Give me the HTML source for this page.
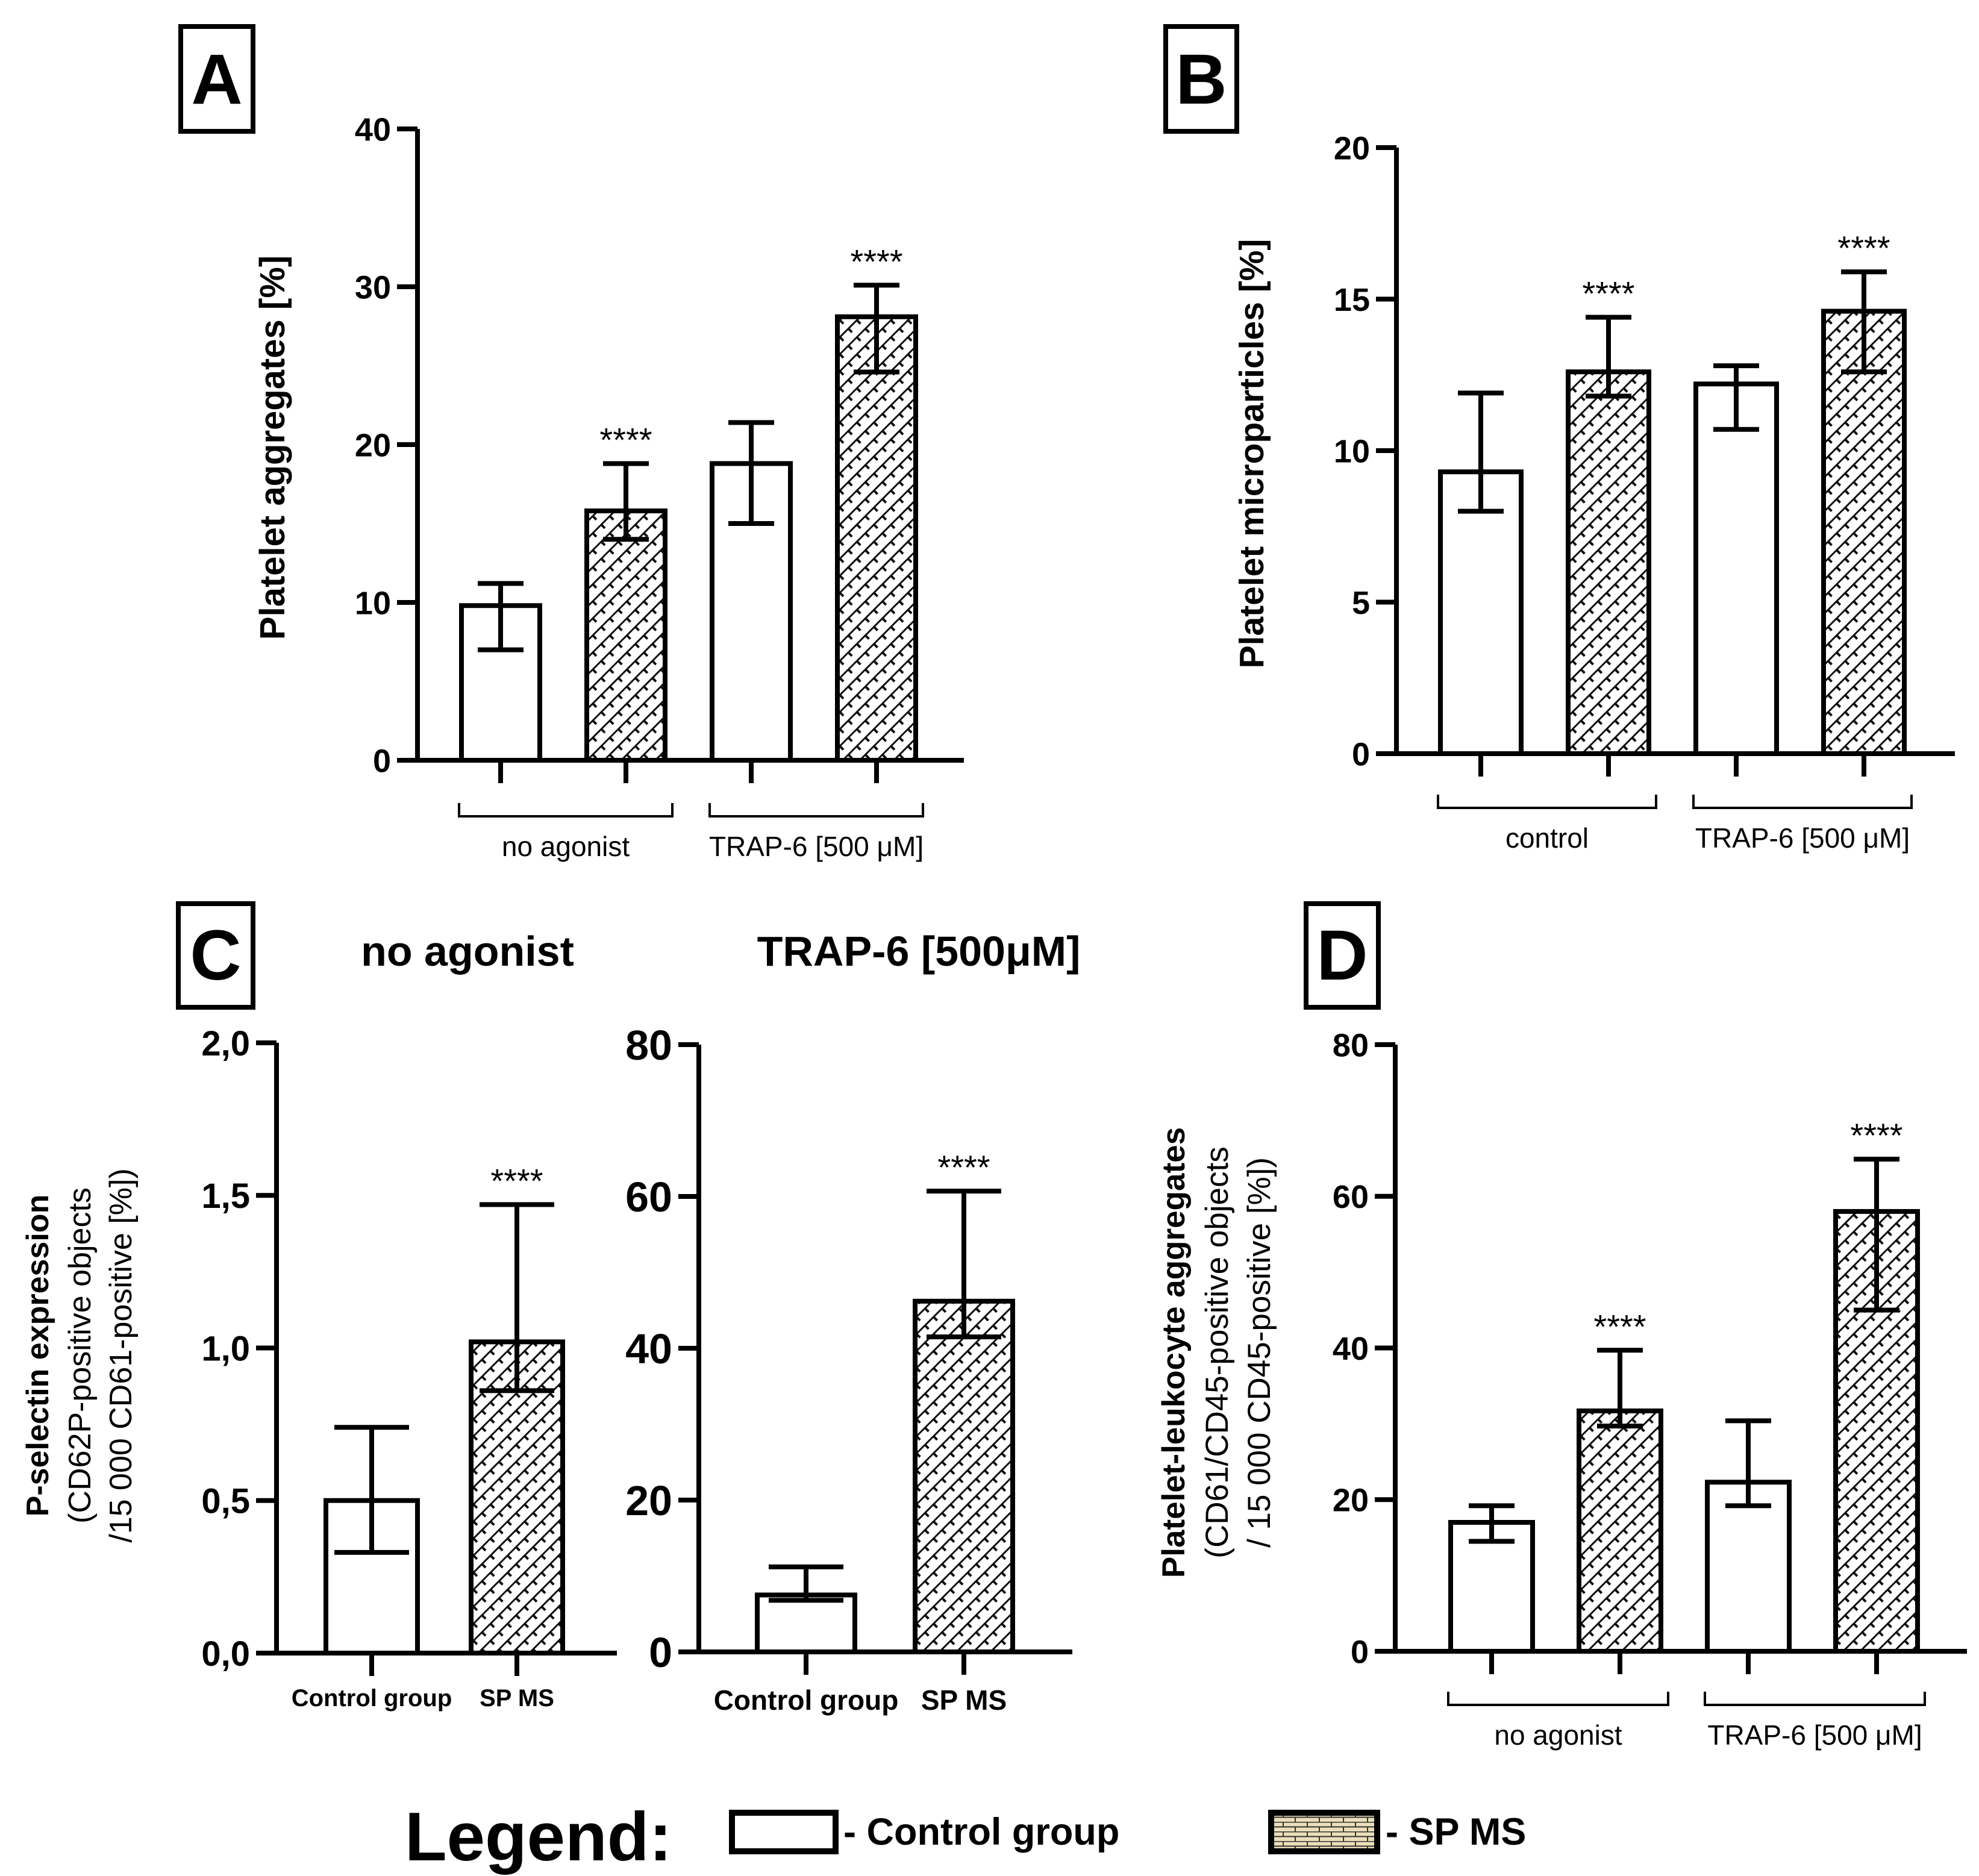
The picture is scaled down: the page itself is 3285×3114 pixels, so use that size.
<!DOCTYPE html>
<html><head><meta charset="utf-8"><style>
html,body{margin:0;padding:0;background:#fff;}
svg{display:block;font-family:"Liberation Sans",Arial,sans-serif;}
</style></head><body>
<svg id="fig" width="3285" height="3114" viewBox="0 0 3285 3114" xmlns="http://www.w3.org/2000/svg">
<defs>
<pattern id="hatch" patternUnits="userSpaceOnUse" width="20" height="20" patternTransform="rotate(45)">
<rect width="20" height="20" fill="#fff"/>
<line x1="0" y1="0" x2="0" y2="20" stroke="#111" stroke-width="6"/>
<line x1="0" y1="10" x2="10" y2="10" stroke="#111" stroke-width="4"/>
</pattern>
<pattern id="brick" patternUnits="userSpaceOnUse" width="40" height="16">
<rect width="40" height="16" fill="#eadfb8"/>
<line x1="0" y1="0.5" x2="40" y2="0.5" stroke="#333" stroke-width="2"/>
<line x1="0" y1="8.5" x2="40" y2="8.5" stroke="#333" stroke-width="2"/>
<line x1="10" y1="0" x2="10" y2="8" stroke="#333" stroke-width="2"/>
<line x1="30" y1="8" x2="30" y2="16" stroke="#333" stroke-width="2"/>
</pattern>
</defs>

<g><rect x="300" y="44" width="120" height="174" fill="none" stroke="#000" stroke-width="8"/><text x="360" y="172" font-size="118" font-weight="bold" text-anchor="middle">A</text></g>
<g><rect x="1935" y="44" width="118" height="174" fill="none" stroke="#000" stroke-width="8"/><text x="1994" y="172" font-size="118" font-weight="bold" text-anchor="middle">B</text></g>
<g><rect x="296" y="1500" width="124" height="172" fill="none" stroke="#000" stroke-width="8"/><text x="358" y="1626" font-size="118" font-weight="bold" text-anchor="middle">C</text></g>
<g><rect x="2168" y="1500" width="120" height="172" fill="none" stroke="#000" stroke-width="8"/><text x="2228" y="1626" font-size="118" font-weight="bold" text-anchor="middle">D</text></g>

<text x="776" y="1603" font-size="70" font-weight="bold" text-anchor="middle">no agonist</text>
<text x="1525" y="1603" font-size="70" font-weight="bold" text-anchor="middle">TRAP-6 [500μM]</text>

<text transform="translate(472,743) rotate(-90)" font-size="58" font-weight="bold" text-anchor="middle">Platelet aggregates [%]</text>
<text transform="translate(2097,753) rotate(-90)" font-size="57" font-weight="bold" text-anchor="middle">Platelet microparticles [%]</text>
<g font-size="52" text-anchor="middle">
<text transform="translate(80,2250) rotate(-90)" font-weight="bold">P-selectin expression</text>
<text transform="translate(150,2250) rotate(-90)">(CD62P-positive objects</text>
<text transform="translate(218,2250) rotate(-90)">/15 000 CD61-positive [%])</text>
</g>
<g font-size="53" text-anchor="middle">
<text transform="translate(1966,2245) rotate(-90)" font-weight="bold">Platelet-leukocyte aggregates</text>
<text transform="translate(2038,2245) rotate(-90)">(CD61/CD45-positive objects</text>
<text transform="translate(2108,2245) rotate(-90)">/ 15 000 CD45-positive [%])</text>
</g>

<g id="charts"></g>

<g>
<text x="672" y="3088" font-size="114" font-weight="bold">Legend:</text>
<rect x="1215" y="3009" width="172" height="64" fill="#fff" stroke="#000" stroke-width="10"/>
<text x="1400" y="3062" font-size="63" font-weight="bold">- Control group</text>
<rect x="2110" y="3009" width="176" height="64" fill="url(#brick)" stroke="#000" stroke-width="10"/>
<text x="2300" y="3062" font-size="63" font-weight="bold">- SP MS</text>
</g>
</svg>
<script>
const aCategories = ['Control no agonist','SP MS no agonist','Control TRAP-6','SP MS TRAP-6'];
const aValues = [9.8, 15.8, 18.8, 28.1];
const aErrLow = [7.0, 14.0, 15.0, 24.6];
const aErrHigh = [11.2, 18.8, 21.4, 30.1];
const aTicks = [0, 10, 20, 30, 40];
const aStars = ['', '****', '', '****'];

const bCategories = ['Control control','SP MS control','Control TRAP-6','SP MS TRAP-6'];
const bValues = [9.3, 12.6, 12.2, 14.6];
const bErrLow = [8.0, 11.8, 10.7, 12.6];
const bErrHigh = [11.9, 14.4, 12.8, 15.9];
const bTicks = [0, 5, 10, 15, 20];
const bStars = ['', '****', '', '****'];

const c1Categories = ['Control group', 'SP MS'];
const c1Values = [0.5, 1.02];
const c1ErrLow = [0.33, 0.86];
const c1ErrHigh = [0.74, 1.47];
const c1Ticks = [0, 0.5, 1.0, 1.5, 2.0];
const c1TickLabels = ['0,0', '0,5', '1,0', '1,5', '2,0'];
const c1Stars = ['', '****'];

const c2Categories = ['Control group', 'SP MS'];
const c2Values = [7.5, 46.2];
const c2ErrLow = [6.8, 41.5];
const c2ErrHigh = [11.2, 60.7];
const c2Ticks = [0, 20, 40, 60, 80];
const c2Stars = ['', '****'];

const dCategories = ['Control no agonist','SP MS no agonist','Control TRAP-6','SP MS TRAP-6'];
const dValues = [17.0, 31.7, 22.3, 58.0];
const dErrLow = [14.5, 29.7, 19.2, 45.0];
const dErrHigh = [19.2, 39.7, 30.4, 64.9];
const dTicks = [0, 20, 40, 60, 80];
const dStars = ['', '****', '', '****'];

const NS = 'http://www.w3.org/2000/svg';
const root = document.getElementById('charts');
function mk(tag, attrs, parent){
  const e = document.createElementNS(NS, tag);
  for (const k in attrs) e.setAttribute(k, attrs[k]);
  parent.appendChild(e);
  return e;
}

function drawPanel(p, cats, vals, lo, hi, ticks, tickLabels, stars, groupLabels){
  const g = mk('g', {}, root);
  
  
  const yMax = ticks[ticks.length-1];
  const y = v => p.y0 - (v / yMax) * (p.y0 - p.yTop);
  const ax = mk('line', {x1:p.ax, y1:p.yTop, x2:p.ax, y2:p.y0+4, stroke:'#000','stroke-width':8}, g);
  
  
  ticks.forEach((t,i) => {
    const tk = mk('line', {x1:p.ax-34, y1:y(t), x2:p.ax, y2:y(t), stroke:'#000','stroke-width':8}, g);
    
    
    const tl = mk('text', {x:p.ax-44, y:y(t)+p.tfs*0.36, 'font-size':p.tfs, 'font-weight':'bold', 'text-anchor':'end'}, g);
    if (p.narrow) tl.setAttribute('style', 'font-family:"Liberation Sans Narrow","Liberation Sans",sans-serif');
    tl.textContent = tickLabels ? tickLabels[i] : String(t);
    
    
  });
  vals.forEach((v,i) => {
    const cx = p.c0 + i * p.step;
    const r = mk('rect', {x:cx - p.bw/2, y:y(v), width:p.bw, height:p.y0 - y(v), fill: (i%2===1)?'url(#hatch)':'#fff', stroke:'#000','stroke-width':8}, g);
    
    
    const eb = mk('path', {d:`M${cx},${y(lo[i])}V${y(hi[i])}M${cx-p.cap},${y(hi[i])}H${cx+p.cap}M${cx-p.cap},${y(lo[i])}H${cx+p.cap}`, stroke:'#000','stroke-width':8, fill:'none'}, g);
    
    
    const xt = mk('line', {x1:cx, y1:p.y0, x2:cx, y2:p.y0+38, stroke:'#000','stroke-width':8}, g);
    
    
    if (stars[i]) {
      const s = mk('text', {x:cx, y:y(hi[i]) - 20, 'font-size':56, 'text-anchor':'middle'}, g);
      s.textContent = stars[i];
      
      
    }
    if (p.catLabels) {
      const cl = mk('text', {x:cx, y:p.catY, 'font-size':p.cfs, 'font-weight':'bold', 'text-anchor':'middle'}, g);
      if (p.narrow) cl.setAttribute('style', 'font-family:"Liberation Sans Narrow","Liberation Sans",sans-serif');
      cl.textContent = cats[i];
      
      
    }
  });
  const xa = mk('line', {x1:p.ax-34, y1:p.y0, x2:p.xEnd, y2:p.y0, stroke:'#000','stroke-width':8}, g);
  
  
  if (groupLabels) {
    groupLabels.forEach((gl,k) => {
      const x1 = p.c0 + (2*k) * p.step - p.bw/2 - 4;
      const x2 = p.c0 + (2*k+1) * p.step + p.bw/2 + 12;
      const br = mk('path', {d:`M${x1},${p.brY-22}V${p.brY}H${x2}V${p.brY-22}`, stroke:'#000','stroke-width':4, fill:'none'}, g);
      
      
      const t = mk('text', {x:(x1+x2)/2, y:p.brY+66, 'font-size':46, 'text-anchor':'middle'}, g);
      t.textContent = gl;
      
      
    });
  }
}

drawPanel({name:'panel-a-chart', ax:693, y0:1262, yTop:214, xEnd:1600, c0:831, step:208, bw:130, cap:38, tfs:54, brY:1355},
  aCategories, aValues, aErrLow, aErrHigh, aTicks, null, aStars, ['no agonist','TRAP-6 [500 μM]']);
drawPanel({name:'panel-b-chart', ax:2318, y0:1251, yTop:245, xEnd:3245, c0:2458, step:212, bw:134, cap:38, tfs:54, brY:1341},
  bCategories, bValues, bErrLow, bErrHigh, bTicks, null, bStars, ['control','TRAP-6 [500 μM]']);
drawPanel({name:'panel-c-no-agonist-chart', ax:459, y0:2744, yTop:1731, xEnd:1024, c0:617, step:241, bw:152, cap:62, tfs:58, narrow:true, catLabels:true, catY:2832, cfs:40},
  c1Categories, c1Values, c1ErrLow, c1ErrHigh, c1Ticks, c1TickLabels, c1Stars, null);
drawPanel({name:'panel-c-trap6-chart', ax:1160, y0:2742, yTop:1734, xEnd:1780, c0:1338, step:262, bw:162, cap:62, tfs:70, narrow:true, catLabels:true, catY:2838, cfs:46},
  c2Categories, c2Values, c2ErrLow, c2ErrHigh, c2Ticks, null, c2Stars, null);
drawPanel({name:'panel-d-chart', ax:2316, y0:2741, yTop:1734, xEnd:3265, c0:2476, step:213, bw:136, cap:38, tfs:54, brY:2830},
  dCategories, dValues, dErrLow, dErrHigh, dTicks, null, dStars, ['no agonist','TRAP-6 [500 μM]']);
</script>
</body></html>
